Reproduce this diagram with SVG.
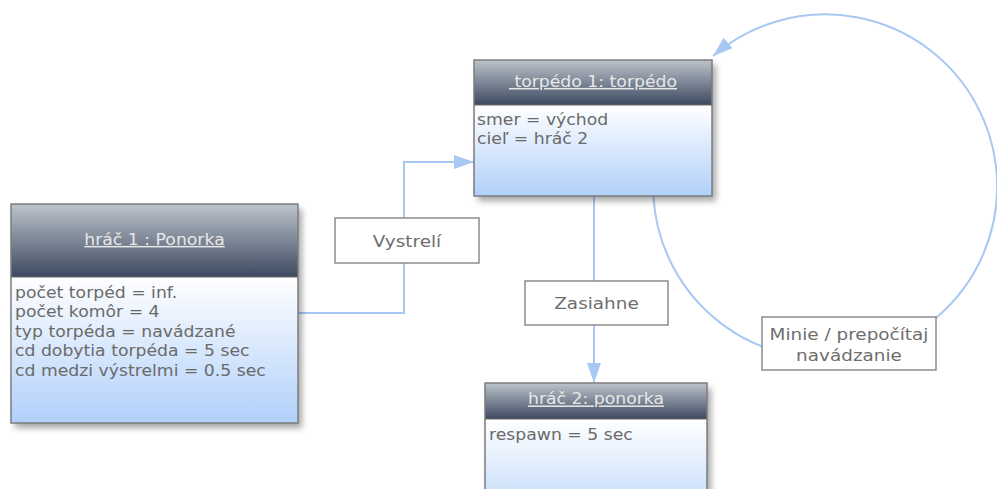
<svg xmlns="http://www.w3.org/2000/svg" width="997" height="489" viewBox="0 0 997 489">
<defs>
<linearGradient id="hdr" x1="0" y1="0" x2="0" y2="1">
<stop offset="0" stop-color="#bcc4cb"/>
<stop offset="1" stop-color="#3d4960"/>
</linearGradient>
<linearGradient id="bdy" x1="0" y1="0" x2="0" y2="1">
<stop offset="0" stop-color="#ffffff"/>
<stop offset="1" stop-color="#b0d0fa"/>
</linearGradient>
<linearGradient id="bdy3" x1="0" y1="0" x2="0" y2="1">
<stop offset="0" stop-color="#ffffff"/>
<stop offset="1" stop-color="#c4dcfa"/>
</linearGradient>
<filter id="sh" x="-10%" y="-10%" width="125%" height="125%">
<feDropShadow dx="4" dy="5" stdDeviation="3" flood-color="#000" flood-opacity="0.35"/>
</filter>
<marker id="arr" markerUnits="userSpaceOnUse" markerWidth="22" markerHeight="16" refX="20" refY="7" orient="auto">
<path d="M0,0 L20,7 L0,14 z" fill="#a6c8f2"/>
</marker>
<style>
.frame{stroke:#7c7c7c;stroke-width:1.5}
.sep{stroke:#6a6a6a;stroke-width:1}
.title{font-family:"DejaVu Sans",Verdana,sans-serif;font-size:15px;fill:#e8e8e8;text-decoration:underline;white-space:pre}
.attr{font-family:"DejaVu Sans",Verdana,sans-serif;font-size:15px;fill:#6a6a6a}
.lbl{font-family:"DejaVu Sans",Verdana,sans-serif;font-size:16px;fill:#6e6e6e}
.lbox{fill:#ffffff;stroke:#8c8c8c;stroke-width:1.5}
.conn{fill:none;stroke:#a6c8f2;stroke-width:2}
</style>
</defs>

<g id="connectors">
<path class="conn" d="M298,313 H404 V162 H474" marker-end="url(#arr)"/>
<path class="conn" d="M594,196 V383" marker-end="url(#arr)"/>
<path class="conn" d="M653.4,196 A172,172 0 1 0 713,56" marker-end="url(#arr)"/>
</g>

<g id="node-hrac1">
<g filter="url(#sh)">
<rect x="11" y="204" width="287" height="73" fill="url(#hdr)"/>
<rect x="11" y="277" width="287" height="146" fill="url(#bdy)"/>
</g>
<rect class="frame" x="11" y="204" width="287" height="219" fill="none"/>
<line class="sep" x1="11" y1="277" x2="298" y2="277"/>
<g transform="matrix(1.15 0 0 1 154.5 0)"><text class="title" x="0" y="245" text-anchor="middle">hráč 1 : Ponorka</text></g>
<g transform="matrix(1.15 0 0 1 15 0)">
<text class="attr" x="0" y="298">počet torpéd = inf.</text>
<text class="attr" x="0" y="317.5">počet komôr = 4</text>
<text class="attr" x="0" y="337">typ torpéda = navádzané</text>
<text class="attr" x="0" y="356.5">cd dobytia torpéda = 5 sec</text>
<text class="attr" x="0" y="376">cd medzi výstrelmi = 0.5 sec</text>
</g>
</g>

<g id="node-torpedo">
<g filter="url(#sh)">
<rect x="474" y="60" width="238" height="45" fill="url(#hdr)"/>
<rect x="474" y="105" width="238" height="91" fill="url(#bdy)"/>
</g>
<rect class="frame" x="474" y="60" width="238" height="136" fill="none"/>
<line class="sep" x1="474" y1="105" x2="712" y2="105"/>
<g transform="matrix(1.15 0 0 1 593 0)"><text class="title" x="0" y="87" text-anchor="middle"> torpédo 1: torpédo</text></g>
<g transform="matrix(1.15 0 0 1 477 0)">
<text class="attr" x="0" y="125">smer = východ</text>
<text class="attr" x="0" y="144">cieľ = hráč 2</text>
</g>
</g>

<g id="node-hrac2">
<g filter="url(#sh)">
<rect x="485" y="383" width="222" height="36" fill="url(#hdr)"/>
<rect x="485" y="419" width="222" height="90" fill="url(#bdy3)"/>
</g>
<rect class="frame" x="485" y="383" width="222" height="126" fill="none"/>
<line class="sep" x1="485" y1="419" x2="707" y2="419"/>
<g transform="matrix(1.15 0 0 1 596 0)"><text class="title" x="0" y="404.5" text-anchor="middle">hráč 2: ponorka</text></g>
<g transform="matrix(1.15 0 0 1 489 0)">
<text class="attr" x="0" y="440">respawn = 5 sec</text>
</g>
</g>

<g id="label-vystreli">
<rect class="lbox" x="335" y="218" width="144" height="45"/>
<g transform="matrix(1.15 0 0 1 407 0)"><text class="lbl" x="0" y="247" text-anchor="middle">Vystrelí</text></g>
</g>

<g id="label-zasiahne">
<rect class="lbox" x="525" y="281" width="143" height="44"/>
<g transform="matrix(1.15 0 0 1 596.5 0)"><text class="lbl" x="0" y="309" text-anchor="middle">Zasiahne</text></g>
</g>

<g id="label-minie">
<rect class="lbox" x="762" y="317" width="174" height="53"/>
<g transform="matrix(1.15 0 0 1 849 0)">
<text class="lbl" x="0" y="340" text-anchor="middle">Minie / prepočítaj</text>
<text class="lbl" x="0" y="361" text-anchor="middle">navádzanie</text>
</g>
</g>
</svg>
